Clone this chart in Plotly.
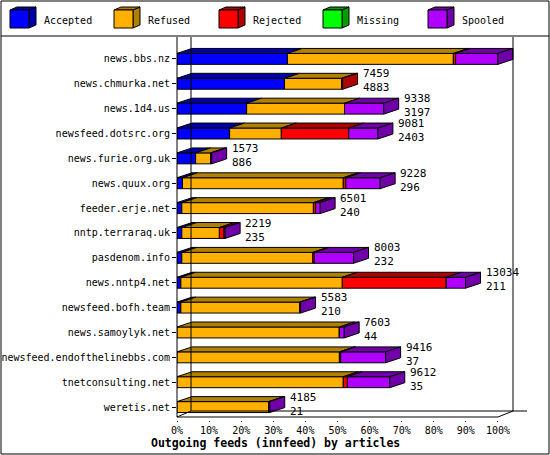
import plotly.graph_objects as go

hosts = ["news.bbs.nz", "news.chmurka.net", "news.1d4.us", "newsfeed.dotsrc.org",
         "news.furie.org.uk", "news.quux.org", "feeder.erje.net", "nntp.terraraq.uk",
         "pasdenom.info", "news.nntp4.net", "newsfeed.bofh.team", "news.samoylyk.net",
         "newsfeed.endofthelinebbs.com", "tnetconsulting.net", "weretis.net"]
total = [14503, 7459, 9338, 9081, 1573, 9228, 6501, 2219, 8003, 13034, 5583, 7603, 9416, 9612, 4185]
second = [5040, 4883, 3197, 2403, 886, 296, 240, 235, 232, 211, 210, 44, 37, 35, 21]
# percentages of articles
accepted = [34.4, 33.5, 21.7, 16.4, 5.8, 1.7, 1.5, 1.5, 1.5, 1.2, 1.2, 0.0, 0.0, 0.0, 0.0]
refused = [51.7, 17.8, 30.5, 16.1, 4.7, 50.1, 41.0, 11.7, 40.8, 50.3, 37.0, 50.6, 50.6, 51.8, 28.6]
rejected = [0.7, 0.3, 0.0, 21.0, 0.0, 0.8, 0.7, 1.5, 0.5, 32.4, 0.0, 0.0, 0.4, 1.3, 0.0]
missing = [0.0] * 15
spooled = [13.2, 0.0, 12.2, 9.1, 0.3, 10.7, 1.4, 0.3, 12.2, 6.0, 0.3, 1.5, 14.0, 13.2, 0.3]

series = [("Accepted", accepted, "#0000FF", "#0000A8"),
          ("Refused", refused, "#FFB000", "#B08000"),
          ("Rejected", rejected, "#FF0000", "#B00000"),
          ("Missing", missing, "#00FF00", "#00A000"),
          ("Spooled", spooled, "#B000FF", "#7000A8")]

FONT = "DejaVu Sans Mono"
H = 0.44   # bar thickness (rows)
DX = 4.67  # depth in x units
DY = 0.2   # depth in rows
rows = list(range(len(hosts)))

fig = go.Figure()
base = [0.0] * len(hosts)
tops = []
last_dark = [None] * len(hosts)
for name, vals, col, dark in series:
    fig.add_trace(go.Bar(y=rows, x=vals, base=base, orientation="h", width=H,
                         marker=dict(color=col, line=dict(color="black", width=1)),
                         showlegend=False, hoverinfo="skip"))
    xs, ys = [], []
    for i, v in enumerate(vals):
        if v <= 0:
            continue
        x0, x1, yt = base[i], base[i] + v, i - H / 2
        xs += [x0, x1, x1 + DX, x0 + DX, x0, None]
        ys += [yt, yt, yt - DY, yt - DY, yt, None]
        last_dark[i] = dark
    tops.append((xs, ys, dark))
    base = [b + v for b, v in zip(base, vals)]

for xs, ys, dark in tops:
    fig.add_trace(go.Scatter(x=xs, y=ys, mode="lines", fill="toself", fillcolor=dark,
                             line=dict(color="black", width=1), showlegend=False, hoverinfo="skip"))

for i, end in enumerate(base):
    yt, yb = i - H / 2, i + H / 2
    fig.add_trace(go.Scatter(x=[end, end, end + DX, end + DX, end], y=[yt, yb, yb - DY, yt - DY, yt],
                             mode="lines", fill="toself", fillcolor=last_dark[i],
                             line=dict(color="black", width=1), showlegend=False, hoverinfo="skip"))
    fig.add_annotation(x=end + DX + 1.0, y=i - 0.12, text=f"{total[i]}<br>{second[i]}",
                       showarrow=False, xanchor="left", yanchor="middle", align="left",
                       font=dict(family=FONT, size=11, color="black"))

# frame / 3D wall lines
L, R, T, B = 177, 514, 39, 420
def px(x):
    return (x - L) / (R - L)
def py(y):
    return (B - y) / (B - T)

shapes = []
line = dict(color="black", width=1)
for x0, y0, x1, y1 in [(177, 37, 177, 417), (191, 37, 191, 411), (513, 37, 513, 411),
                       (177, 417, 498, 417), (191, 411, 527, 411), (498, 417, 513, 411),
                       (177, 417, 191, 411), (1, 36, 549, 36)]:
    shapes.append(dict(type="line", xref="paper", yref="paper", x0=px(x0), y0=py(y0),
                       x1=px(x1), y1=py(y1), line=line))
shapes.append(dict(type="rect", xref="paper", yref="paper", x0=px(1), y0=py(1), x1=px(549),
                   y1=py(454), line=line))

# legend boxes
leg_x = [10, 114, 219, 323, 428]
for (name, vals, col, dark), lx in zip(series, leg_x):
    shapes.append(dict(type="path", xref="paper", yref="paper",
                       path=f"M {px(lx+19)},{py(10)} L {px(lx+26)},{py(7)} L {px(lx+26)},{py(25)} L {px(lx+19)},{py(28)} Z",
                       fillcolor=dark, line=line))
    shapes.append(dict(type="path", xref="paper", yref="paper",
                       path=f"M {px(lx)},{py(10)} L {px(lx+7)},{py(7)} L {px(lx+26)},{py(7)} L {px(lx+19)},{py(10)} Z",
                       fillcolor=dark, line=line))
    shapes.append(dict(type="rect", xref="paper", yref="paper", x0=px(lx), y0=py(28),
                       x1=px(lx + 19), y1=py(10), fillcolor=col, line=line))
    fig.add_annotation(xref="paper", yref="paper", x=px(lx + 32), y=py(20), text=name,
                       showarrow=False, xanchor="left", yanchor="middle",
                       font=dict(family=FONT, size=10, color="black"))

fig.add_annotation(xref="paper", yref="paper", x=px(275), y=py(443),
                   xanchor="center", yanchor="middle",
                   text="<b>Outgoing feeds (innfeed) by articles</b>", showarrow=False,
                   font=dict(family=FONT, size=11.5, color="black"))

fig.update_layout(
    width=550, height=455, margin=dict(l=L, r=550 - R, t=T, b=455 - B, autoexpand=False),
    paper_bgcolor="white", plot_bgcolor="white", barmode="overlay",
    font=dict(family=FONT, size=10, color="black"),
    shapes=shapes,
    xaxis=dict(range=[0, 105], tickvals=list(range(0, 101, 10)), automargin=False,
               ticktext=[f"{v}%" for v in range(0, 101, 10)], showgrid=False, zeroline=False,
               ticks="outside", ticklen=1, tickcolor="black", tickfont=dict(size=10)),
    yaxis=dict(range=[14.52, -0.8], tickvals=rows, ticktext=hosts, showgrid=False,
               automargin=False, zeroline=False, ticks="outside", ticklen=4, tickcolor="black",
               tickfont=dict(size=10)),
)
fig.write_html("out.html", config={"displayModeBar": False},
               post_script="document.body.style.margin='0px';")
